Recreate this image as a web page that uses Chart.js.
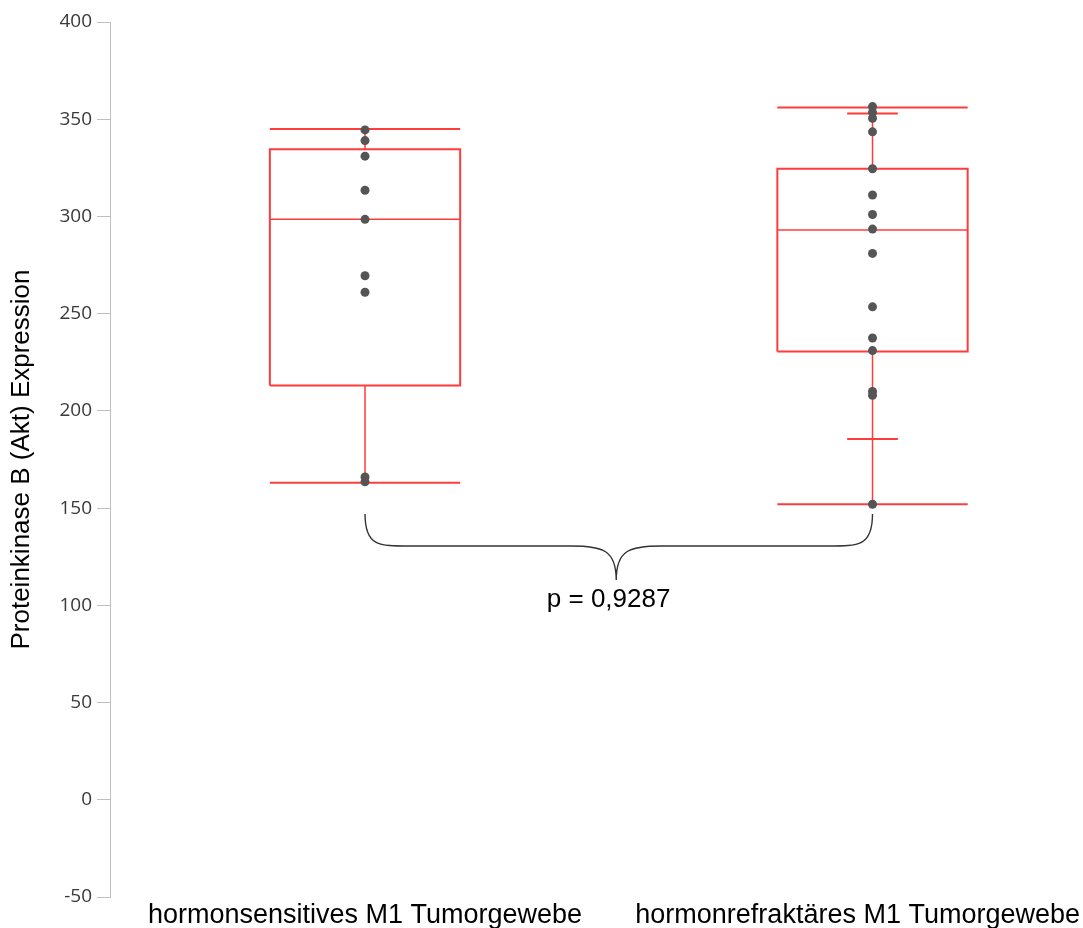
<!DOCTYPE html>
<html>
<head>
<meta charset="utf-8">
<script src="https://cdn.jsdelivr.net/npm/chart.js@4"></script>
<style>
  body { margin: 0; background: #fff; }
  #wrap { width: 1083px; height: 928px; position: relative; }
</style>
</head>
<body>
<div id="wrap"><canvas id="myChart"></canvas></div>
<script>
// categories and values
const categories = ['hormonsensitives M1 Tumorgewebe', 'hormonrefraktäres M1 Tumorgewebe'];
const sensitiveValues = [344.5, 339, 331, 313.5, 298.5, 269.5, 261, 166, 163.5];
const refractoryValues = [356.5, 353.5, 350.5, 343.5, 324.5, 311, 301, 293.5, 281, 253.5, 237.5, 231, 210, 208, 152];
const whiskerLow = [163, 152];
const quartile1 = [213, 230.5];
const medians = [298.5, 293];
const quartile3 = [334.5, 324.5];
const whiskerHigh = [345, 356];
const sdLow = [null, 185.5];
const sdHigh = [null, 353];
const pText = 'p = 0,9287';
const yTitle = 'Proteinkinase B (Akt) Expression';
const yMin = -50, yMax = 400, yStep = 50;

const RED = 'rgb(255,60,60)';
const HW = 0.1875;  // half box width in x units
const CAP = 0.05;   // short caps

function seg(points, width) {
    return {
        type: 'line',
        data: points.map(p => ({ x: p[0], y: p[1] })),
        borderColor: RED,
        borderWidth: width || 2,
        pointRadius: 0,
        fill: false,
        tension: 0,
        order: 2
    };
}

const datasets = [];
[sensitiveValues, refractoryValues].forEach((vals, i) => {
    const x = i + 1;
    // box
    datasets.push(seg([[x - HW, quartile1[i]], [x + HW, quartile1[i]], [x + HW, quartile3[i]], [x - HW, quartile3[i]], [x - HW, quartile1[i]]]));
    // median
    datasets.push(seg([[x - HW, medians[i]], [x + HW, medians[i]]], 1.5));
    // whiskers
    datasets.push(seg([[x, whiskerLow[i]], [x, quartile1[i]]], 1.5));
    datasets.push(seg([[x, quartile3[i]], [x, whiskerHigh[i]]], 1.5));
    datasets.push(seg([[x - HW, whiskerLow[i]], [x + HW, whiskerLow[i]]]));
    datasets.push(seg([[x - HW, whiskerHigh[i]], [x + HW, whiskerHigh[i]]]));
    if (sdLow[i] !== null) {
        datasets.push(seg([[x - CAP, sdLow[i]], [x + CAP, sdLow[i]]]));
        datasets.push(seg([[x - CAP, sdHigh[i]], [x + CAP, sdHigh[i]]]));
    }
    // points
    datasets.push({
        type: 'scatter',
        data: vals.map(v => ({ x: x, y: v })),
        backgroundColor: '#555',
        borderColor: '#555',
        pointRadius: 4.5,
        borderWidth: 0,
        order: 1
    });
});

// category labels + brace with p value
const annotate = {
    id: 'annotate',
    afterDraw(chart) {
        const ctx = chart.ctx;
        const xs = chart.scales.x, ys = chart.scales.y;
        ctx.save();
        ctx.fillStyle = '#000';
        ctx.font = '27px "Liberation Sans", Arial, sans-serif';
        ctx.textAlign = 'center';
        ctx.textBaseline = 'alphabetic';
        categories.forEach((c, i) => {
            let cx = xs.getPixelForValue(i + 1);
            const w = ctx.measureText(c).width;
            if (cx + w / 2 > chart.width - 3) cx = chart.width - 3 - w / 2;
            ctx.fillText(c, cx, 923);
        });

        // brace between the two groups
        const x1 = xs.getPixelForValue(1), x2 = xs.getPixelForValue(2);
        const xm = xs.getPixelForValue(1.495);
        const yTop = ys.getPixelForValue(147);
        const yMid = ys.getPixelForValue(130.5);
        const yTip = ys.getPixelForValue(113);
        const r = 45;
        ctx.strokeStyle = '#333';
        ctx.lineWidth = 1.4;
        ctx.beginPath();
        ctx.moveTo(x1, yTop);
        ctx.bezierCurveTo(x1, yMid, x1 + r * 0.3, yMid, x1 + r, yMid);
        ctx.lineTo(xm - r, yMid);
        ctx.bezierCurveTo(xm - r * 0.3, yMid, xm, yMid + 4, xm, yTip);
        ctx.bezierCurveTo(xm, yMid + 4, xm + r * 0.3, yMid, xm + r, yMid);
        ctx.lineTo(x2 - r, yMid);
        ctx.bezierCurveTo(x2 - r * 0.3, yMid, x2, yMid, x2, yTop);
        ctx.stroke();

        ctx.font = '26px "Liberation Sans", Arial, sans-serif';
        ctx.fillText(pText, xs.getPixelForValue(1.48), ys.getPixelForValue(99));
        ctx.restore();
    }
};

const ctx = document.getElementById('myChart').getContext('2d');
const myChart = new Chart(ctx, {
    type: 'scatter',
    data: { datasets: datasets },
    plugins: [annotate],
    options: {
        responsive: true,
        maintainAspectRatio: false,
        animation: false,
        layout: { padding: { top: 22, bottom: 31, left: 0, right: 8 } },
        plugins: {
            legend: { display: false },
            tooltip: { enabled: false }
        },
        scales: {
            x: {
                type: 'linear',
                min: 0.4975,
                max: 2.399,
                display: false
            },
            y: {
                min: yMin,
                max: yMax,
                afterFit: function(scale) { scale.width = 110; },
                ticks: {
                    stepSize: yStep,
                    padding: 5,
                    color: '#3a3a3a',
                    font: { family: '"Open Sans"', size: 19 }
                },
                grid: {
                    drawOnChartArea: false,
                    tickLength: 13,
                    tickColor: '#bfbfbf'
                },
                border: { color: '#bfbfbf', width: 1 },
                title: {
                    display: true,
                    text: yTitle,
                    color: '#000',
                    padding: { top: 6, bottom: 4 },
                    font: { family: '"Liberation Sans", Arial, sans-serif', size: 26 }
                }
            }
        }
    }
});
</script>
</body>
</html>
